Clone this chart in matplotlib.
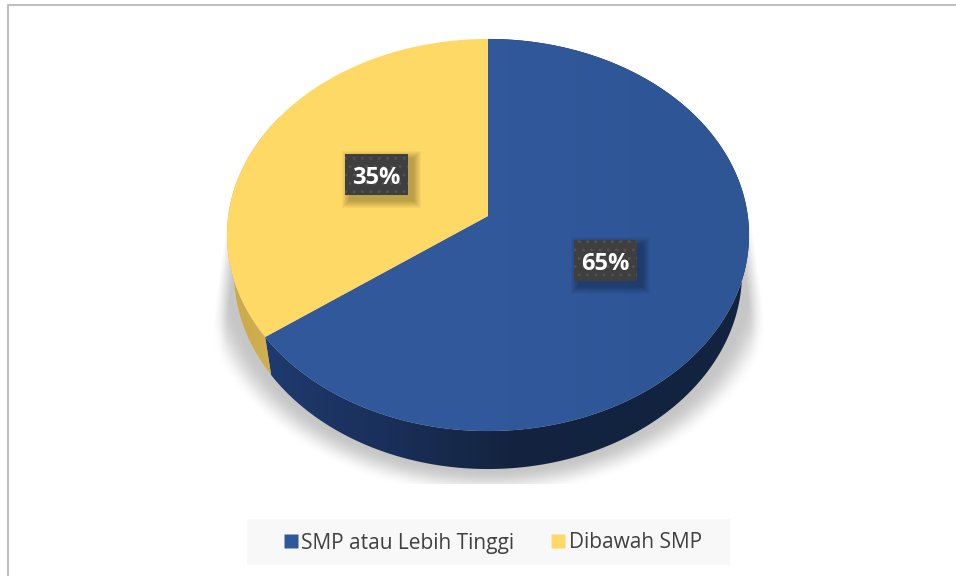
import numpy as np
import matplotlib
matplotlib.use("Agg")
import matplotlib.pyplot as plt
from matplotlib.colors import LinearSegmentedColormap
from matplotlib.patches import Polygon, Rectangle
from matplotlib.lines import Line2D

#==========================================================================
# Data
#==========================================================================
categories = ["SMP atau Lebih Tinggi", "Dibawah SMP"]
values = [65, 35]
pct_labels = ["65%", "35%"]
top_colors = ["#2f5898", "#ffd966"]

#==========================================================================
# Tilted disc: a circle seen in perspective, in pixel coordinates
#==========================================================================
CX, CY = 488, 216
K = -0.0969
A = 194.2
B = 259.8
DEPTH = 38
SX = 0.973


def rim(theta):
    # theta runs clockwise from 12 o'clock
    x, y = np.sin(theta), -np.cos(theta)
    d = 1 + K * y
    return CX + B * x / d, CY + A * y / d


def rim_low(theta):
    x, y = rim(theta)
    return CX + SX * (x - CX), y + DEPTH


def gradient_fill(xs, ys, cmap, x0, x1, zorder):
    # horizontal gradient clipped to a polygon
    patch = Polygon(np.c_[xs, ys], closed=True, fc="none", ec="none", transform=ax.transData)
    ax.add_patch(patch)
    grad = np.linspace(0, 1, 256).reshape(1, -1)
    im = ax.imshow(grad, cmap=cmap, extent=(x0, x1, 490, 30), aspect="auto", zorder=zorder)
    im.set_clip_path(patch)


fig = plt.figure(figsize=(9.56, 5.76), dpi=100, facecolor="white")
ax = fig.add_axes([0, 0, 1, 1])

# shadow
xx, yy = np.meshgrid(np.arange(212, 766), np.arange(150, 484))
r = np.hypot((xx - 488) / 295.0, (yy - 270) / 226.0)
alpha = np.clip((1.0 - r) / 0.12, 0, 1)
alpha = alpha * alpha * (3 - 2 * alpha)
# sides of the shadow lean inwards towards the top and fade out
edge = 212 + np.clip(325 - yy, 0, None) * 0.135
inset = np.minimum(xx - 212, 765 - xx) - (edge - 212)
alpha = alpha * np.clip(inset / 14.0, 0, 1) * np.clip((yy - 160) / 90.0, 0, 1)
rgba = np.zeros(xx.shape + (4,))
rgba[..., :3] = 0.78
rgba[..., 3] = alpha
ax.imshow(rgba, extent=(212, 766, 484, 150), aspect="auto", zorder=1, interpolation="bilinear")

# slices: first one starts at 12 o'clock and goes clockwise
fractions = np.array(values, dtype=float) / sum(values)
edges = np.concatenate([[0], np.cumsum(fractions)]) * 2 * np.pi

blue_side = LinearSegmentedColormap.from_list("b", ["#1f3b6f", "#1a2f5a", "#14243f", "#12233f", "#12233f"])
yellow_side = LinearSegmentedColormap.from_list("y", ["#c9a94e", "#d2b04f"])
side_maps = [blue_side, yellow_side]
side_span = [(260, 760), (222, 280)]

for i in range(len(values)):
    t = np.linspace(edges[i], edges[i + 1], 300)
    xt, yt = rim(t)
    xl, yl = rim_low(t)
    gradient_fill(np.r_[xt, xl[::-1]], np.r_[yt, yl[::-1]], side_maps[i], side_span[i][0], side_span[i][1], 2)

blue_top = LinearSegmentedColormap.from_list("t", ["#31599c", "#30589b", "#2e5594"])
for i in range(len(values)):
    t = np.linspace(edges[i], edges[i + 1], 300)
    xt, yt = rim(t)
    if i == 0:
        gradient_fill(np.r_[CX, xt], np.r_[CY, yt], blue_top, 255, 755, 3)
    else:
        ax.fill(np.r_[CX, xt], np.r_[CY, yt], color=top_colors[i], lw=0, zorder=3)

# data labels
label_boxes = [(574, 240, 63, 41), (345, 154, 63, 41)]
plt.rcParams["hatch.linewidth"] = 0.9
for box, txt in zip(label_boxes, pct_labels):
    x0, y0, w, h = box
    for g in range(8, 0, -1):
        ax.add_patch(Rectangle((x0 + 5 - g, y0 + 5 - g), w + 2 * g, h + 2 * g,
                               fc="black", ec="none", alpha=0.035, zorder=4))
    ax.add_patch(Rectangle((x0, y0), w, h, fc="#3f3f3f", ec="#525252", lw=0, hatch="..", zorder=5))
    ax.text(x0 + w / 2, y0 + h / 2 + 3.5, txt, color="white", fontsize=17, fontweight="bold",
            family="Open Sans", ha="center", va="center", zorder=6)

# legend
ax.add_patch(Rectangle((247, 519), 483, 46, fc="#f8f8f8", ec="none", zorder=1))
handles = [Line2D([], [], ls="none", marker="s", ms=10, mfc=c, mec="none") for c in top_colors]
ax.legend(handles, categories, loc="center", bbox_to_anchor=(491, 543), bbox_transform=ax.transData,
          ncol=2, frameon=False, handlelength=1, handletextpad=0.02, columnspacing=1.58, borderpad=0,
          prop={"family": "Open Sans", "size": 15}, labelcolor="#404040")

# outer frame
ax.plot([8, 8, 956], [576, 4.5, 4.5], color="#bfbfbf", lw=1.5, zorder=1)

ax.set_xlim(0, 956)
ax.set_ylim(576, 0)
ax.axis("off")
fig.savefig("out.png", dpi=100)
